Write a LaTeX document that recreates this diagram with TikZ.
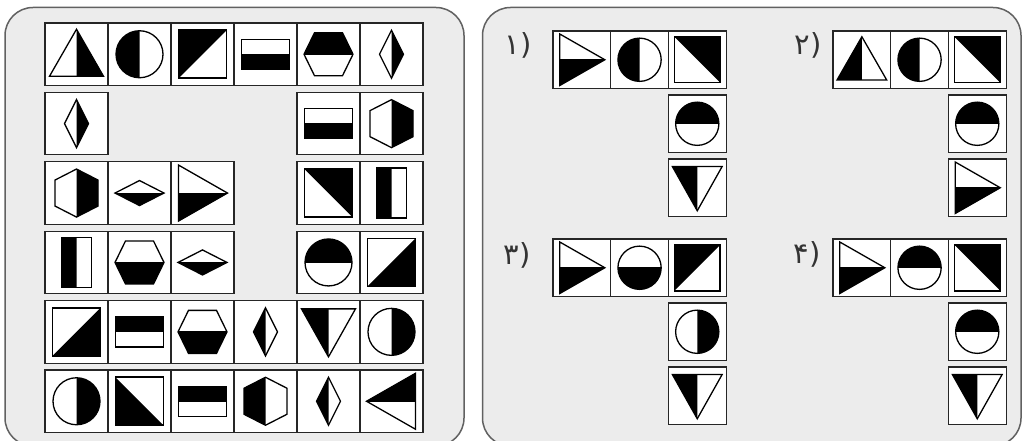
\documentclass[tikz,border=0pt]{standalone}
\usepackage{fontspec}
\newfontfamily\digfont{DejaVu Sans}
% shape outlines (centre at origin, y downward)
\def\TriU{(-27,22) -- (27,22) -- (0,-25) -- cycle}
\def\TriD{(-27,-23) -- (27,-23) -- (0,25) -- cycle}
\def\TriR{(-24,-28) -- (25,0) -- (-24,28) -- cycle}
\def\TriL{(24,-28) -- (-25,0) -- (24,28) -- cycle}
\def\Circ{(0,0) circle (23.5)}
\def\HRect{(-24,-15) rectangle (24,15)}
\def\VRect{(-15,-25) rectangle (15,25)}
\def\HexH{(-24.5,0) -- (-14,-21.5) -- (14,-21.5) -- (24.5,0) -- (14,21.5) -- (-14,21.5) -- cycle}
\def\HexV{(0,-24) -- (21.5,-13) -- (21.5,13) -- (0,24) -- (-21.5,13) -- (-21.5,-13) -- cycle}
\def\DiaV{(0,-24) -- (12,0) -- (0,24) -- (-12,0) -- cycle}
\def\DiaH{(-24.5,0) -- (0,-12.5) -- (24.5,0) -- (0,12.5) -- cycle}
% black halves
\def\HfL{(-40,-40) rectangle (0,40)}
\def\HfR{(0,-40) rectangle (40,40)}
\def\HfT{(-40,-40) rectangle (40,0)}
\def\HfB{(-40,0) rectangle (40,40)}
% black triangles of the split squares
\def\SqUL{(-24,-24) -- (24,-24) -- (-24,24) -- cycle}
\def\SqLR{(24,-24) -- (24,24) -- (-24,24) -- cycle}
\def\SqUR{(-24,-24) -- (24,-24) -- (24,24) -- cycle}
\def\SqLL{(-24,-24) -- (-24,24) -- (24,24) -- cycle}
\newcommand\halfshp[4][1]{\begin{scope}[shift={(#2.center)},scale=#1]\begin{scope}\clip #4;\fill[black] #3;\end{scope}\draw[shp] #3;\end{scope}}
\newcommand\sqshp[3][1]{\begin{scope}[shift={(#2.center)},scale=#1]\fill[black] #3;\draw[sqs] (-24,-24) rectangle (24,24);\end{scope}}
\begin{document}
\begin{tikzpicture}[x=1pt,y=-1pt,
  panel/.style={draw=black!62, line width=1.5pt, fill=black!7.5, rounded corners=28pt},
  cell/.style={draw=black!85, line width=1.1pt, fill=white, minimum width=63pt, minimum height=62.5pt, inner sep=0pt, outer sep=0pt},
  ocell/.style={cell, minimum width=57.7pt, minimum height=57.5pt},
  shp/.style={draw=black, line width=1.3pt, line join=miter},
  sqs/.style={draw=black, line width=1.9pt},
  lbl/.style={font=\digfont\fontsize{29}{34}\selectfont, text=black!80, inner sep=0pt}]
\useasboundingbox (0,0) rectangle (1024,441);
\fill[white] (0,0) rectangle (1024,441);
\path[panel] (5,7.5) rectangle (464,446);
\path[panel] (482.5,7.5) rectangle (1021,446);

% ---------- left grid ----------
\foreach \r/\c in {1/1,1/2,1/3,1/4,1/5,1/6, 2/1,2/5,2/6, 3/1,3/2,3/3,3/5,3/6, 4/1,4/2,4/3,4/5,4/6,
                   5/1,5/2,5/3,5/4,5/5,5/6, 6/1,6/2,6/3,6/4,6/5,6/6}
  \node[cell] (L\r\c) at ({76.5+63*(\c-1)}, {54.25+69.4*(\r-1)}) {};

\halfshp{L11}{\TriU}{\HfR}
\halfshp{L12}{\Circ}{\HfL}
\sqshp{L13}{\SqUL}
\halfshp{L14}{\HRect}{\HfB}
\halfshp{L15}{\HexH}{\HfT}
\halfshp{L16}{\DiaV}{\HfR}

\halfshp{L21}{\DiaV}{\HfR}
\halfshp{L25}{\HRect}{\HfB}
\halfshp{L26}{\HexV}{\HfR}

\halfshp{L31}{\HexV}{\HfR}
\halfshp{L32}{\DiaH}{\HfB}
\halfshp{L33}{\TriR}{\HfB}
\sqshp{L35}{\SqUR}
\halfshp{L36}{\VRect}{\HfL}

\halfshp{L41}{\VRect}{\HfL}
\halfshp{L42}{\HexH}{\HfB}
\halfshp{L43}{\DiaH}{\HfB}
\halfshp{L45}{\Circ}{\HfT}
\sqshp{L46}{\SqLR}

\sqshp{L51}{\SqLR}
\halfshp{L52}{\HRect}{\HfT}
\halfshp{L53}{\HexH}{\HfB}
\halfshp{L54}{\DiaV}{\HfL}
\halfshp{L55}{\TriD}{\HfL}
\halfshp{L56}{\Circ}{\HfR}

\halfshp{L61}{\Circ}{\HfR}
\sqshp{L62}{\SqLL}
\halfshp{L63}{\HRect}{\HfT}
\halfshp{L64}{\HexV}{\HfL}
\halfshp{L65}{\DiaV}{\HfL}
\halfshp{L66}{\TriL}{\HfT}

% ---------- options ----------
\foreach \k/\x/\y in {1/553/31, 2/833/31, 3/553/239, 4/833/239}{
  \node[ocell] (O\k a) at (\x+28.85, \y+28.75) {};
  \node[ocell] (O\k b) at (\x+86.55, \y+28.75) {};
  \node[ocell] (O\k c) at (\x+144.25, \y+28.75) {};
  \node[ocell] (O\k d) at (\x+144.25, \y+92.75) {};
  \node[ocell] (O\k e) at (\x+144.25, \y+156.75) {};
}
\node[lbl] (lab1) at (518,45) {۱)};
\node[lbl] (lab2) at (808,45) {۲)};
\node[lbl] (lab3) at (517,255) {۳)};
\node[lbl] (lab4) at (807,254) {۴)};

\halfshp[0.92]{O1a}{\TriR}{\HfB}
\halfshp[0.92]{O1b}{\Circ}{\HfL}
\sqshp[0.95]{O1c}{\SqUR}
\halfshp[0.92]{O1d}{\Circ}{\HfT}
\halfshp[0.92]{O1e}{\TriD}{\HfL}

\halfshp[0.92]{O2a}{\TriU}{\HfL}
\halfshp[0.92]{O2b}{\Circ}{\HfL}
\sqshp[0.95]{O2c}{\SqUR}
\halfshp[0.92]{O2d}{\Circ}{\HfT}
\halfshp[0.92]{O2e}{\TriR}{\HfB}

\halfshp[0.92]{O3a}{\TriR}{\HfB}
\halfshp[0.92]{O3b}{\Circ}{\HfB}
\sqshp[0.95]{O3c}{\SqUL}
\halfshp[0.92]{O3d}{\Circ}{\HfR}
\halfshp[0.92]{O3e}{\TriD}{\HfL}

\halfshp[0.92]{O4a}{\TriR}{\HfB}
\halfshp[0.92]{O4b}{\Circ}{\HfT}
\sqshp[0.95]{O4c}{\SqUR}
\halfshp[0.92]{O4d}{\Circ}{\HfT}
\halfshp[0.92]{O4e}{\TriD}{\HfL}
\end{tikzpicture}
\end{document}
